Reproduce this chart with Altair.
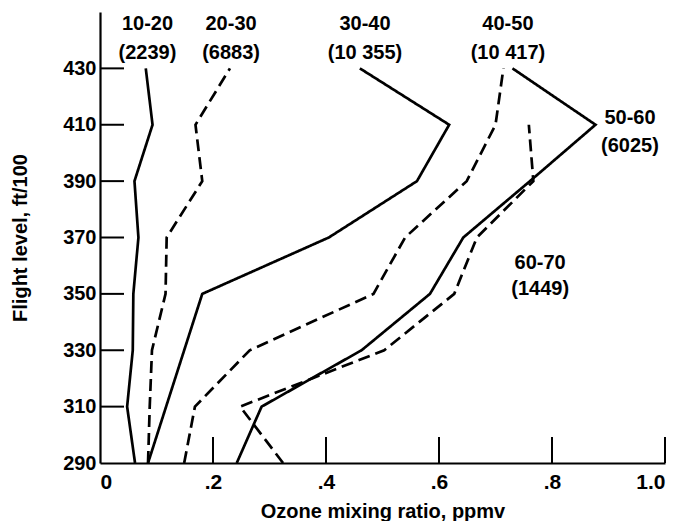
import altair as alt
import pandas as pd

F = "Liberation Sans, Arial, sans-serif"

levels = [430, 410, 390, 370, 350, 330, 310, 290]
s_10_20 = [0.081, 0.093, 0.061, 0.068, 0.059, 0.058, 0.048, 0.062]
s_20_30 = [0.230, 0.169, 0.181, 0.118, 0.116, 0.092, 0.088, 0.085]
s_30_40 = [0.460, 0.618, 0.561, 0.405, 0.181, 0.149, 0.117, 0.085]
s_40_50 = [0.714, 0.700, 0.649, 0.540, 0.484, 0.265, 0.168, 0.149]
s_50_60 = [0.730, 0.877, 0.761, 0.643, 0.584, 0.463, 0.286, 0.242]
levels_60_70 = [410, 390, 370, 350, 330, 310, 290]
s_60_70 = [0.759, 0.767, 0.667, 0.627, 0.503, 0.248, 0.324]

series_names = ["10-20", "20-30", "30-40", "40-50", "50-60", "60-70"]
series_counts = ["(2239)", "(6883)", "(10 355)", "(10 417)", "(6025)", "(1449)"]
series_dash = [[1, 0], [12, 6], [1, 0], [12, 6], [1, 0], [12, 6]]

rows = []
for name, lv, vals in [
    ("10-20", levels, s_10_20),
    ("20-30", levels, s_20_30),
    ("30-40", levels, s_30_40),
    ("40-50", levels, s_40_50),
    ("50-60", levels, s_50_60),
    ("60-70", levels_60_70, s_60_70),
]:
    for l, v in zip(lv, vals):
        rows.append({"series": name, "level": l, "ozone": v})
df = pd.DataFrame(rows)

# label positions (data coordinates)
label_x = [0.084, 0.232, 0.469, 0.722, 0.938, 0.779]
label_y_top = [445.8, 445.8, 445.8, 445.8, 412.5, 360.8]
label_y_bot = [435.5, 435.5, 435.5, 435.5, 402.6, 351.9]
lab_rows = []
for n, c, x, yt, yb in zip(series_names, series_counts, label_x, label_y_top, label_y_bot):
    lab_rows.append({"text": n, "x": x, "y": yt})
    lab_rows.append({"text": c, "x": x, "y": yb})
labels = pd.DataFrame(lab_rows)

x_ticks = [0.2, 0.4, 0.6, 0.8, 1.0]
y_ticks = [310, 330, 350, 370, 390, 410, 430]

W, H = 565, 451
xs = alt.Scale(domain=[0, 1.0], nice=False, zero=False)
ys = alt.Scale(domain=[290, 450], nice=False, zero=False)

x_axis = alt.Axis(
    values=[0, 0.2, 0.4, 0.6, 0.8, 1.0],
    labelExpr="datum.value == 0 ? '0' : (datum.value == 1 ? '1.0' : '.' + format(datum.value * 10, 'd'))",
    ticks=False, grid=False, domainColor="black", domainWidth=2.2,
    labelFont=F, labelFontSize=21, labelFontWeight="bold", labelColor="black",
    labelPadding=8, title="Ozone mixing ratio, ppmv", titleFont=F,
    titleFontSize=20, titleFontWeight="bold", titleColor="black", titlePadding=9,
)
y_axis = alt.Axis(
    values=[290, 310, 330, 350, 370, 390, 410, 430],
    ticks=False, grid=False, domainColor="black", domainWidth=2.2,
    labelFont=F, labelFontSize=20, labelFontWeight="bold", labelColor="black",
    labelPadding=4, title="Flight level, ft/100", titleFont=F,
    titleFontSize=20, titleFontWeight="bold", titleColor="black", titlePadding=32,
)

lines = alt.Chart(df).mark_line(color="black", strokeWidth=2.7).encode(
    x=alt.X("ozone:Q", scale=xs, axis=x_axis),
    y=alt.Y("level:Q", scale=ys, axis=y_axis),
    detail="series:N",
    order="level:Q",
    strokeDash=alt.StrokeDash("series:N", scale=alt.Scale(domain=series_names, range=series_dash), legend=None),
)

xt = alt.Chart(pd.DataFrame({"t": x_ticks})).mark_rule(color="black", strokeWidth=2).encode(
    x=alt.X("t:Q", scale=xs), y=alt.value(H), y2=alt.value(H - 26)
)
yt = alt.Chart(pd.DataFrame({"t": y_ticks})).mark_rule(color="black", strokeWidth=2).encode(
    y=alt.Y("t:Q", scale=ys), x=alt.value(0), x2=alt.value(24)
)

text = alt.Chart(labels).mark_text(
    font=F, fontSize=20, fontWeight="bold", color="black", align="center", baseline="middle"
).encode(
    x=alt.X("x:Q", scale=xs), y=alt.Y("y:Q", scale=ys), text="text:N"
)

chart = alt.layer(lines, xt, yt, text).properties(
    width=W, height=H,
    autosize=alt.AutoSizeParams(type="none"),
    padding={"left": 92, "top": 4, "right": 12, "bottom": 58},
    background="white",
).configure_view(stroke=None)

chart.save("out.html", embed_options={"renderer": "svg", "actions": False})
